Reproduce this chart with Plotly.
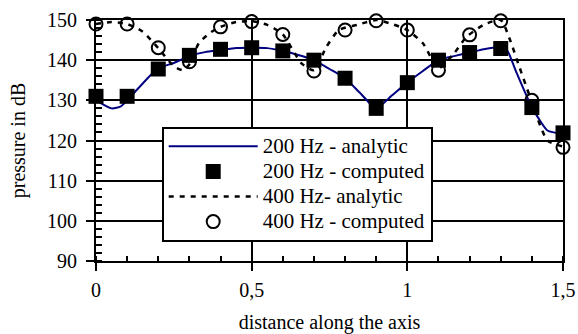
import plotly.graph_objects as go

# computed points
x_comp = [0, 0.1, 0.2, 0.3, 0.4, 0.5, 0.6, 0.7, 0.8, 0.9, 1.0, 1.1, 1.2, 1.3, 1.4, 1.5]
p200_comp = [131, 131, 137.8, 141.2, 142.7, 143.1, 142.3, 140, 135.5, 128, 134.4, 140, 141.9, 142.9, 128.2, 121.9]
p400_comp = [149, 149, 143.1, 139.6, 148.3, 149.6, 146.4, 137.3, 147.5, 149.8, 147.5, 137.5, 146.3, 149.8, 130, 118.3]

# analytic curves
x_a200 = [0, 0.05, 0.08, 0.1, 0.15, 0.2, 0.25, 0.3, 0.35, 0.4, 0.45, 0.5, 0.55, 0.6, 0.65, 0.7,
          0.75, 0.8, 0.85, 0.9, 0.95, 1.0, 1.05, 1.1, 1.15, 1.2, 1.25, 1.3, 1.32, 1.35, 1.4, 1.42, 1.45, 1.5]
p200_an = [130, 128, 128.5, 130, 134.2, 138, 139.3, 141, 142, 142.5, 143, 143.1, 143, 142.3, 141.3, 140,
           137.8, 135.5, 131.7, 128, 131.2, 134.4, 137.3, 140, 141, 141.9, 142.8, 143.1, 142.5, 137, 128.2, 125.7, 122.5, 121.6]

x_a400 = [0, 0.05, 0.1, 0.15, 0.2, 0.25, 0.28, 0.3, 0.33, 0.37, 0.4, 0.45, 0.5, 0.55, 0.6, 0.66, 0.7,
          0.74, 0.78, 0.84, 0.9, 0.95, 1.0, 1.05, 1.1, 1.15, 1.19, 1.245, 1.3, 1.33, 1.36, 1.39, 1.4, 1.45, 1.5]
p400_an = [149, 149.5, 149, 147.1, 143, 138.5, 137.5, 139, 144.2, 147, 148.3, 149.5, 149.7, 148.8, 146.4, 139.2, 137.5,
           143.3, 147.5, 148.8, 150, 149, 147.5, 144.2, 138, 141.7, 145.8, 148.8, 150, 145, 138.3, 131.7, 129.5, 120, 118.5]

series_names = ["200 Hz - analytic", "200 Hz - computed", "400 Hz- analytic", "400 Hz - computed"]

font_family = "Liberation Serif, Times New Roman, serif"


def legend_label(s):
    return '<span style="font-size:21px">' + s + '</span>'


fig = go.Figure()
fig.add_trace(go.Scatter(x=x_a200, y=p200_an, mode="lines", name=legend_label(series_names[0]),
                         line=dict(color="#000080", width=2, shape="spline", smoothing=0.6),
                         cliponaxis=False))
fig.add_trace(go.Scatter(x=x_comp, y=p200_comp, mode="markers", name=legend_label(series_names[1]),
                         marker=dict(symbol="square", size=15, color="black"),
                         cliponaxis=False))
fig.add_trace(go.Scatter(x=x_a400, y=p400_an, mode="lines", name=legend_label(series_names[2]),
                         line=dict(color="black", width=2.5, dash="5px,6px", shape="spline", smoothing=0.6),
                         cliponaxis=False))
fig.add_trace(go.Scatter(x=x_comp, y=p400_comp, mode="markers", name=legend_label(series_names[3]),
                         marker=dict(symbol="circle-open", size=13, color="black", line=dict(width=2, color="black")),
                         cliponaxis=False))

fig.update_layout(
    width=578, height=334,
    margin=dict(l=96, r=15, t=20, b=73),
    paper_bgcolor="white", plot_bgcolor="white",
    separators=",.",
    font=dict(family=font_family, size=20, color="black"),
    showlegend=True,
    legend=dict(x=0.1407, y=0.557, xanchor="left", yanchor="top",
                bgcolor="white", bordercolor="black", borderwidth=2,
                font=dict(size=17, color="black"), itemwidth=89,
                tracegroupgap=0),
    xaxis=dict(range=[0, 1.5], tickmode="linear", tick0=0, dtick=0.5, automargin=False,
               showgrid=True, gridcolor="black", gridwidth=2,
               showline=True, linecolor="black", linewidth=2, mirror=True,
               ticks="outside", ticklen=8, tickwidth=2, tickcolor="black",
               ticklabelstandoff=2,
               minor=dict(ticks="inside", dtick=0.1, tick0=0, ticklen=5, tickwidth=2, tickcolor="black", showgrid=False),
               zeroline=False,
               title=dict(text="distance along the axis", standoff=22, font=dict(size=20))),
    yaxis=dict(range=[90, 150], tickmode="linear", tick0=90, dtick=10, automargin=False,
               showgrid=True, gridcolor="black", gridwidth=2,
               showline=True, linecolor="black", linewidth=2, mirror=True,
               ticks="outside", ticklen=8, tickwidth=2, tickcolor="black",
               ticklabelstandoff=5,
               minor=dict(ticks="inside", dtick=2, tick0=90, ticklen=6, tickwidth=2, tickcolor="black", showgrid=False),
               zeroline=False,
               title=dict(text="pressure in dB", standoff=16, font=dict(size=20))),
)

fig.write_html("out.html", config={"displayModeBar": False},
               post_script="document.body.style.margin='0';")
